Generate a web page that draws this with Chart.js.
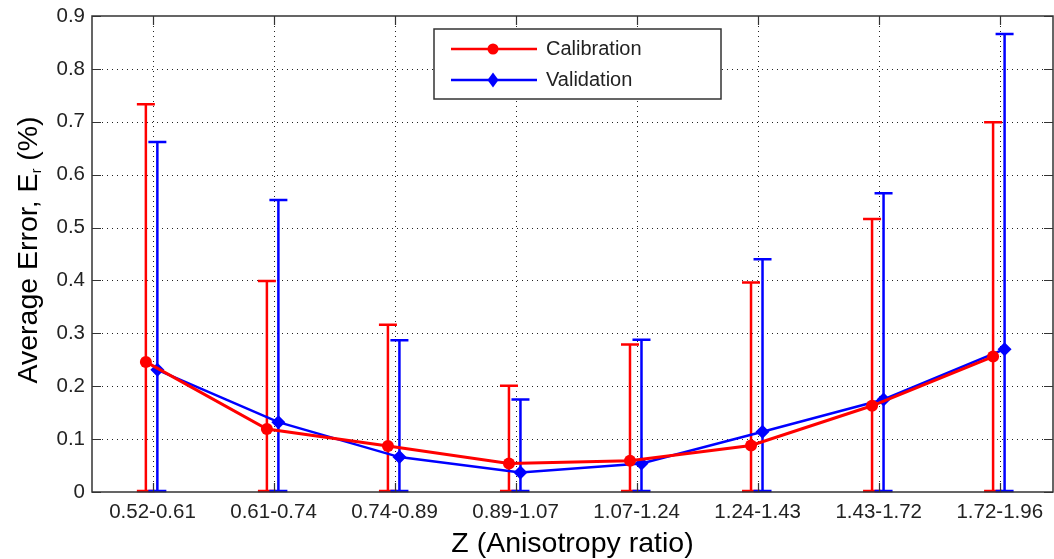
<!DOCTYPE html>
<html>
<head>
<meta charset="utf-8">
<script src="https://cdn.jsdelivr.net/npm/chart.js@4.4.0/dist/chart.umd.min.js"></script>
<style>
  html, body { margin: 0; padding: 0; background: #fff; }
  #wrap { width: 1054px; height: 559px; }
</style>
</head>
<body>
<div id="wrap"><canvas id="grafica" width="1054" height="559"></canvas></div>
<script>
// Anisotropy ratio bins
const categorias = ['0.52-0.61', '0.61-0.74', '0.74-0.89', '0.89-1.07', '1.07-1.24', '1.24-1.43', '1.43-1.72', '1.72-1.96'];

// average error and upper end of error bar, per bin
const calibracionMedia = [0.246, 0.119, 0.087, 0.054, 0.059, 0.088, 0.163, 0.256];
const calibracionMax   = [0.733, 0.399, 0.316, 0.201, 0.279, 0.396, 0.516, 0.699];
const validacionMedia  = [0.231, 0.132, 0.066, 0.037, 0.054, 0.114, 0.175, 0.270];
const validacionMax    = [0.662, 0.552, 0.287, 0.175, 0.288, 0.440, 0.565, 0.866];

const yTicks = [0, 0.1, 0.2, 0.3, 0.4, 0.5, 0.6, 0.7, 0.8, 0.9];
const yTickLabels = ['0', '0.1', '0.2', '0.3', '0.4', '0.5', '0.6', '0.7', '0.8', '0.9'];

const ROJO = '#ff0000';
const AZUL = '#0000ff';
const FUENTE = '"Liberation Sans", Arial, sans-serif';
const desplazCal = -0.055;
const desplazVal = 0.04;

const series = [
    { media: calibracionMedia, max: calibracionMax, color: ROJO, desplaz: desplazCal },
    { media: validacionMedia, max: validacionMax, color: AZUL, desplaz: desplazVal }
];

// dotted grid and error bars under the lines
const gridPunteada = {
    id: 'gridPunteada',
    beforeDatasetsDraw(chart) {
        const { ctx, chartArea: a, scales: { x, y } } = chart;
        ctx.save();
        ctx.strokeStyle = '#222';
        ctx.lineWidth = 1;
        ctx.setLineDash([1, 4]);
        categorias.forEach((c, i) => {
            const px = Math.round(x.getPixelForValue(i + 1)) + 0.5;
            ctx.beginPath();
            ctx.moveTo(px, a.top);
            ctx.lineTo(px, a.bottom);
            ctx.stroke();
        });
        yTicks.forEach(v => {
            if (v === 0 || v === 0.9) return;
            const py = Math.round(y.getPixelForValue(v)) + 0.5;
            ctx.beginPath();
            ctx.moveTo(a.left, py);
            ctx.lineTo(a.right, py);
            ctx.stroke();
        });
        ctx.restore();

        // error bars from 0 to the upper value, capped at both ends
        ctx.save();
        ctx.lineWidth = 2.5;
        series.forEach(s => {
            ctx.strokeStyle = s.color;
            s.max.forEach((m, i) => {
                const px = x.getPixelForValue(i + 1 + s.desplaz);
                const y0 = y.getPixelForValue(0);
                const y1 = y.getPixelForValue(m);
                ctx.beginPath();
                ctx.moveTo(px, y0);
                ctx.lineTo(px, y1);
                ctx.moveTo(px - 9, y1);
                ctx.lineTo(px + 9, y1);
                ctx.moveTo(px - 9, y0 - 1);
                ctx.lineTo(px + 9, y0 - 1);
                ctx.stroke();
            });
        });
        ctx.restore();
    },
    afterDraw(chart) {
        const { ctx, chartArea: a, scales: { x, y } } = chart;
        ctx.save();
        // axes box with inward ticks
        ctx.strokeStyle = '#333';
        ctx.lineWidth = 1.5;
        ctx.strokeRect(a.left, a.top, a.right - a.left, a.bottom - a.top);
        ctx.lineWidth = 1.2;
        ctx.beginPath();
        categorias.forEach((c, i) => {
            const px = Math.round(x.getPixelForValue(i + 1)) + 0.5;
            ctx.moveTo(px, a.bottom); ctx.lineTo(px, a.bottom - 9);
            ctx.moveTo(px, a.top); ctx.lineTo(px, a.top + 9);
        });
        yTicks.forEach(v => {
            const py = Math.round(y.getPixelForValue(v)) + 0.5;
            ctx.moveTo(a.left, py); ctx.lineTo(a.left + 9, py);
            ctx.moveTo(a.right, py); ctx.lineTo(a.right - 9, py);
        });
        ctx.stroke();

        // legend
        const lx = 434, ly = 29, lw = 287, lh = 70;
        ctx.fillStyle = '#fff';
        ctx.fillRect(lx, ly, lw, lh);
        ctx.strokeStyle = '#333';
        ctx.lineWidth = 1.5;
        ctx.strokeRect(lx, ly, lw, lh);
        const filas = [
            { texto: 'Calibration', color: ROJO, yy: 49, marca: 'circulo' },
            { texto: 'Validation', color: AZUL, yy: 80, marca: 'rombo' }
        ];
        filas.forEach(f => {
            ctx.strokeStyle = f.color;
            ctx.fillStyle = f.color;
            ctx.lineWidth = 2.5;
            ctx.beginPath();
            ctx.moveTo(451, f.yy);
            ctx.lineTo(537, f.yy);
            ctx.stroke();
            ctx.beginPath();
            if (f.marca === 'circulo') {
                ctx.arc(493, f.yy, 5.5, 0, Math.PI * 2);
            } else {
                ctx.moveTo(493, f.yy - 7.5);
                ctx.lineTo(498.5, f.yy);
                ctx.lineTo(493, f.yy + 7.5);
                ctx.lineTo(487.5, f.yy);
                ctx.closePath();
            }
            ctx.fill();
            ctx.fillStyle = '#222';
            ctx.font = '20px ' + FUENTE;
            ctx.textBaseline = 'middle';
            ctx.textAlign = 'left';
            ctx.fillText(f.texto, 546, f.yy);
        });

        // axis titles
        ctx.fillStyle = '#000';
        ctx.font = '28.5px ' + FUENTE;
        ctx.textAlign = 'center';
        ctx.textBaseline = 'alphabetic';
        ctx.fillText('Z (Anisotropy ratio)', (a.left + a.right) / 2, 552);

        ctx.translate(37, (a.top + a.bottom) / 2 - 4);
        ctx.rotate(-Math.PI / 2);
        const t1 = 'Average Error, E';
        const t2 = 'r';
        const t3 = ' (%)';
        ctx.font = '28.5px ' + FUENTE;
        const w1 = ctx.measureText(t1).width;
        const w3 = ctx.measureText(t3).width;
        ctx.font = '14px ' + FUENTE;
        const w2 = ctx.measureText(t2).width;
        let cx = -(w1 + w2 + w3) / 2;
        ctx.textAlign = 'left';
        ctx.font = '28.5px ' + FUENTE;
        ctx.fillText(t1, cx, 0);
        cx += w1;
        ctx.font = '14px ' + FUENTE;
        ctx.fillText(t2, cx, 4);
        cx += w2;
        ctx.font = '28.5px ' + FUENTE;
        ctx.fillText(t3, cx, 0);
        ctx.restore();
    }
};

const ctx = document.getElementById('grafica').getContext('2d');

new Chart(ctx, {
    type: 'line',
    data: {
        datasets: [
            {
                label: 'Calibration',
                data: categorias.map((c, i) => ({ x: i + 1 + desplazCal, y: calibracionMedia[i] })),
                borderColor: ROJO,
                backgroundColor: ROJO,
                borderWidth: 3,
                pointStyle: 'circle',
                pointRadius: 6,
                pointBorderWidth: 0,
                tension: 0
            },
            {
                label: 'Validation',
                data: categorias.map((c, i) => ({ x: i + 1 + desplazVal, y: validacionMedia[i] })),
                borderColor: AZUL,
                backgroundColor: AZUL,
                borderWidth: 2.5,
                pointStyle: 'rectRot',
                pointRadius: 7,
                pointBorderWidth: 0,
                tension: 0
            }
        ]
    },
    options: {
        responsive: false,
        devicePixelRatio: 1,
        animation: false,
        layout: { autoPadding: false, padding: { top: 16, right: 1, left: 0, bottom: 0 } },
        plugins: {
            legend: { display: false },
            tooltip: { enabled: false }
        },
        scales: {
            x: {
                type: 'linear',
                min: 0.5,
                max: 8.44,
                afterBuildTicks: s => { s.ticks = categorias.map((c, i) => ({ value: i + 1 })); },
                afterFit: s => { s.height = 67; s.paddingLeft = 0; s.paddingRight = 0; },
                grid: { display: false, drawTicks: false },
                border: { display: false },
                ticks: {
                    autoSkip: false,
                    maxRotation: 0,
                    padding: 8,
                    color: '#222',
                    font: { family: FUENTE, size: 20.5 },
                    callback: v => categorias[Math.round(v) - 1]
                }
            },
            y: {
                min: 0,
                max: 0.9,
                afterBuildTicks: s => { s.ticks = yTicks.map(v => ({ value: v })); },
                afterFit: s => { s.width = 92; s.paddingTop = 0; s.paddingBottom = 0; },
                grid: { display: false, drawTicks: false },
                border: { display: false },
                ticks: {
                    padding: 7,
                    color: '#222',
                    font: { family: FUENTE, size: 20.5 },
                    callback: (v, i) => yTickLabels[i]
                }
            }
        }
    },
    plugins: [gridPunteada]
});
</script>
</body>
</html>
